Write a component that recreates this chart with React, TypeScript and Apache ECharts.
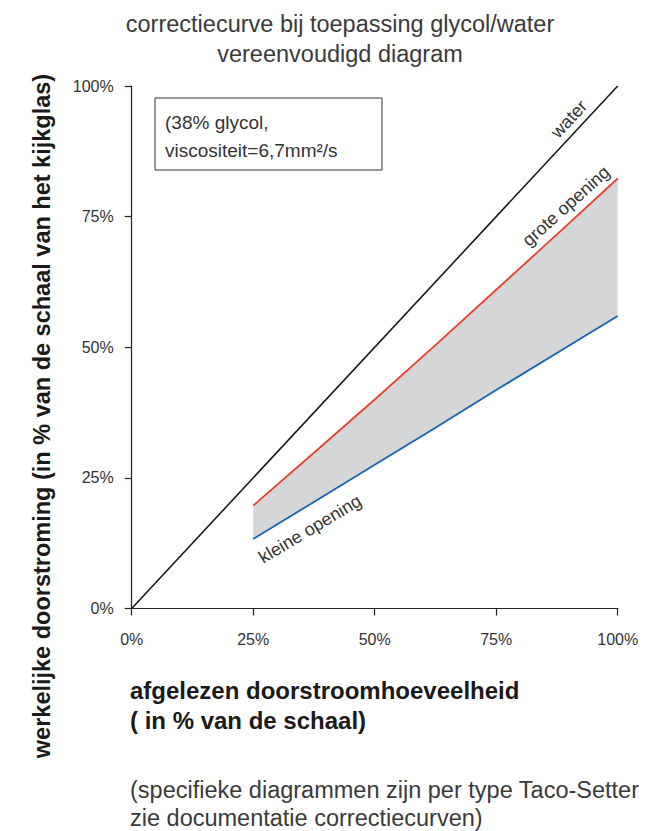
import React, { useEffect, useRef } from "react";
import * as echarts from "echarts";

const waterX = [0, 100];
const waterY = [0, 100];
const openingX = [25, 37.5, 50, 62.5, 75, 87.5, 100];
const groteY = [19.7, 29.8, 40.0, 50.4, 61.0, 71.6, 82.3];
const kleineY = [13.3, 20.4, 27.5, 34.6, 41.8, 48.9, 56.0];
const xTicks = [0, 25, 50, 75, 100];

const FONT = "'Liberation Sans', Arial, sans-serif";

export default function App() {
  const ref = useRef<HTMLDivElement>(null);
  useEffect(() => {
    if (!ref.current) return;
    const chart = echarts.init(ref.current, null, { renderer: "svg" });
    const pair = (xs: number[], ys: number[]) => xs.map((x, i) => [x, ys[i]]);
    chart.setOption({
      animation: false,
      backgroundColor: "#ffffff",
      textStyle: { fontFamily: FONT },
      title: {
        text: "correctiecurve bij toepassing glycol/water\nvereenvoudigd diagram",
        left: 335,
        top: 4,
        textAlign: "center",
        textStyle: { fontFamily: FONT, fontSize: 23.5, fontWeight: "normal", color: "#3a3a3a", lineHeight: 30 },
      },
      grid: { left: 131.7, right: 43.3, top: 86, bottom: 222.5, containLabel: false },
      xAxis: {
        type: "value",
        min: xTicks[0],
        max: xTicks[xTicks.length - 1],
        interval: 25,
        splitLine: { show: false },
        axisLine: { lineStyle: { color: "#222", width: 1.2 } },
        axisTick: { length: 7, lineStyle: { color: "#222", width: 1.2 } },
        axisLabel: { formatter: "{value}%", fontSize: 16, color: "#333", margin: 23, fontFamily: FONT },
      },
      yAxis: {
        type: "value",
        min: 0,
        max: 100,
        interval: 25,
        splitLine: { show: false },
        axisLine: { show: true, lineStyle: { color: "#222", width: 1.2 } },
        axisTick: { show: true, length: 7, lineStyle: { color: "#222", width: 1.2 } },
        axisLabel: { formatter: "{value}%", fontSize: 16, color: "#333", margin: 18, fontFamily: FONT },
      },
      series: [
        {
          type: "custom",
          z: 1,
          silent: true,
          data: [[0, 0]],
          renderItem: (_p: any, api: any) => {
            const pts: number[][] = [];
            openingX.forEach((x, i) => pts.push(api.coord([x, groteY[i]])));
            for (let i = openingX.length - 1; i >= 0; i--) pts.push(api.coord([openingX[i], kleineY[i]]));
            return { type: "polygon", shape: { points: pts }, style: { fill: "#d5d6d8" } };
          },
        },
        {
          type: "line",
          name: "water",
          data: pair(waterX, waterY),
          symbol: "none",
          z: 3,
          lineStyle: { color: "#1a1a1a", width: 1.6 },
        },
        {
          type: "line",
          name: "grote opening",
          data: pair(openingX, groteY),
          symbol: "none",
          z: 3,
          lineStyle: { color: "#e8402a", width: 1.8 },
        },
        {
          type: "line",
          name: "kleine opening",
          data: pair(openingX, kleineY),
          symbol: "none",
          z: 3,
          lineStyle: { color: "#1464b4", width: 1.8 },
        },
      ],
      graphic: [
        {
          type: "rect",
          shape: { x: 155, y: 98, width: 227, height: 72 },
          style: { fill: "none", stroke: "#333", lineWidth: 1 },
        },
        {
          type: "text",
          x: 165,
          y: 122,
          style: { text: "(38% glycol,", fontSize: 19, fontFamily: FONT, fill: "#333", verticalAlign: "middle" },
        },
        {
          type: "text",
          x: 165,
          y: 150,
          style: { text: "viscositeit=6,7mm²/s", fontSize: 19, fontFamily: FONT, fill: "#333", verticalAlign: "middle" },
        },
        {
          type: "text",
          x: 569,
          y: 119,
          rotation: 0.82,
          style: { text: "water", fontSize: 18, fontFamily: FONT, fill: "#333", align: "center", verticalAlign: "middle" },
        },
        {
          type: "text",
          x: 566,
          y: 206,
          rotation: 0.73,
          style: { text: "grote opening", fontSize: 18, fontFamily: FONT, fill: "#333", align: "center", verticalAlign: "middle" },
        },
        {
          type: "text",
          x: 310,
          y: 529,
          rotation: 0.54,
          style: { text: "kleine opening", fontSize: 18, fontFamily: FONT, fill: "#333", align: "center", verticalAlign: "middle" },
        },
        {
          type: "text",
          x: 42,
          y: 416,
          rotation: Math.PI / 2,
          style: {
            text: "werkelijke doorstroming (in % van de schaal van het kijkglas)",
            fontSize: 23.5,
            fontWeight: "bold",
            fontFamily: FONT,
            fill: "#1a1a1a",
            align: "center",
            verticalAlign: "middle",
          },
        },
        {
          type: "text",
          x: 130,
          y: 690,
          style: { text: "afgelezen doorstroomhoeveelheid", fontSize: 24, fontWeight: "bold", fontFamily: FONT, fill: "#1a1a1a", verticalAlign: "middle" },
        },
        {
          type: "text",
          x: 130,
          y: 720,
          style: { text: "( in % van de schaal)", fontSize: 24, fontWeight: "bold", fontFamily: FONT, fill: "#1a1a1a", verticalAlign: "middle" },
        },
        {
          type: "text",
          x: 130,
          y: 790,
          style: { text: "(specifieke diagrammen zijn per type Taco-Setter", fontSize: 23.5, fontFamily: FONT, fill: "#3a3a3a", verticalAlign: "middle" },
        },
        {
          type: "text",
          x: 130,
          y: 818,
          style: { text: "zie documentatie correctiecurven)", fontSize: 23.5, fontFamily: FONT, fill: "#3a3a3a", verticalAlign: "middle" },
        },
      ],
    });
    return () => chart.dispose();
  }, []);
  return (
    <div
      ref={ref}
      style={{ position: "absolute", left: 0, top: 0, width: 661, height: 831, background: "#fff" }}
    />
  );
}
